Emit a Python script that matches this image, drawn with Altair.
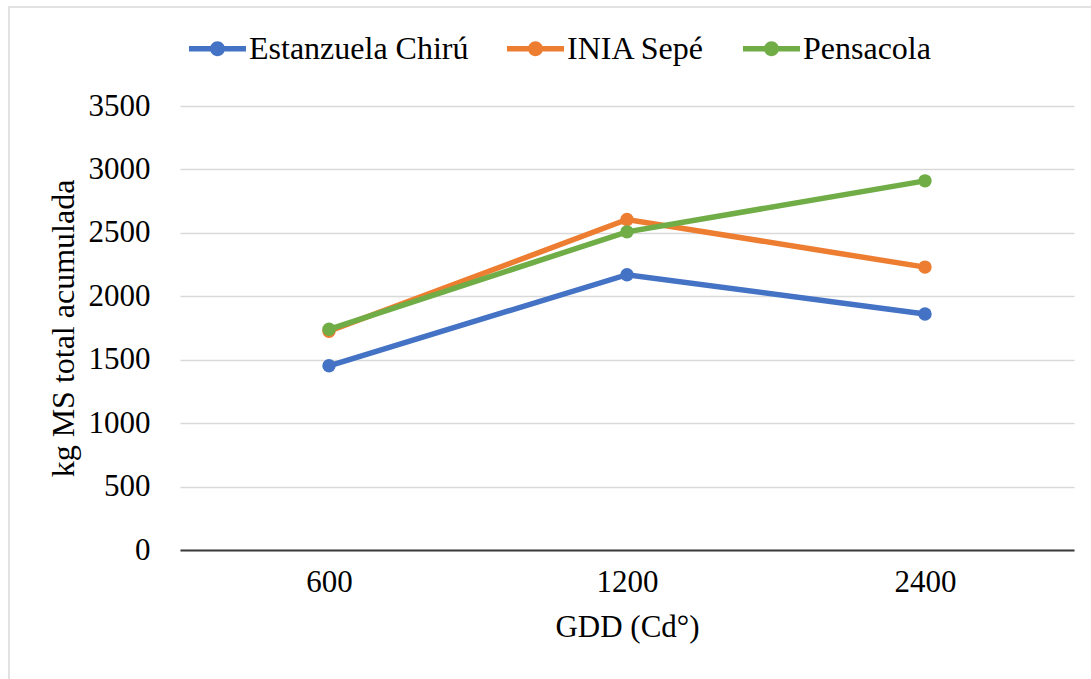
import altair as alt
import pandas as pd

gdd = ["600", "1200", "2400"]
estanzuela = [1452, 2170, 1860]
inia = [1725, 2605, 2230]
pensacola = [1740, 2508, 2910]
series_names = ["Estanzuela Chirú", "INIA Sepé", "Pensacola"]
colors = ["#4472C4", "#ED7D31", "#70AD47"]

rows = []
for name, vals in zip(series_names, [estanzuela, inia, pensacola]):
    for i, (g, v) in enumerate(zip(gdd, vals)):
        rows.append({"GDD": g, "orden": i, "valor": v, "serie": name})
df = pd.DataFrame(rows)

FONT = "Liberation Serif"
W, H = 894, 444

legend_path = ("M-1,-0.1L1,-0.1L1,0.1L-1,0.1Z "
               "M-0.26,0A0.26,0.26 0 1,1 0.26,0A0.26,0.26 0 1,1 -0.26,0Z")

color = alt.Color(
    "serie:N",
    scale=alt.Scale(domain=series_names, range=colors),
    legend=alt.Legend(
        title=None,
        orient="none",
        legendX=9,
        legendY=-86,
        direction="horizontal",
        symbolType=legend_path,
        symbolSize=3249,
        symbolStrokeWidth=0,
        symbolOpacity=1,
        labelFont=FONT,
        labelFontSize=32,
        labelColor="#000000",
        labelOffset=3,
        columnPadding=38,
        labelLimit=400,
    ),
)

x = alt.X(
    "GDD:N",
    sort=gdd,
    scale=alt.Scale(type="point", padding=0.5),
    axis=alt.Axis(
        title="GDD (Cd°)",
        titleFont=FONT,
        titleFontSize=31,
        titleFontWeight="normal",
        titleColor="#000000",
        titlePadding=15,
        labelFont=FONT,
        labelFontSize=31,
        labelColor="#000000",
        labelAngle=0,
        labelPadding=17,
        ticks=False,
        domainColor="#3a3a3a",
        domainWidth=2,
        grid=False,
    ),
)
y = alt.Y(
    "valor:Q",
    scale=alt.Scale(domain=[0, 3500], nice=False),
    axis=alt.Axis(
        title="kg MS total acumulada",
        titleFont=FONT,
        titleFontSize=32,
        titleFontWeight="normal",
        titleColor="#000000",
        titlePadding=8,
        labelFont=FONT,
        labelFontSize=31,
        labelColor="#000000",
        labelPadding=30,
        format="d",
        values=[0, 500, 1000, 1500, 2000, 2500, 3000, 3500],
        ticks=False,
        domain=False,
        gridColor="#d9d9d9",
        gridWidth=1.5,
    ),
)

base = alt.Chart(df)
lines = base.mark_line(strokeWidth=5.5).encode(
    x=x, y=y, color=color, order=alt.Order("orden:Q")
)
points = base.mark_point(filled=True, size=180, opacity=1).encode(x=x, y=y, color=color)

border = alt.Chart(alt.Data(values=[{}])).mark_rect(
    fill=None, stroke="#d9d9d9", strokeWidth=1.5, clip=False
).encode(
    x=alt.value(-171), x2=alt.value(940), y=alt.value(-99), y2=alt.value(620)
)

chart = alt.layer(border, lines, points).properties(
    width=W,
    height=H,
    autosize=alt.AutoSizeParams(type="none"),
    padding={"left": 180, "top": 106, "right": 17, "bottom": 129},
    background="#ffffff",
).configure(font=FONT).configure_view(stroke=None).configure_legend(
    labelFont=FONT, labelFontSize=32, labelColor="#000000"
).configure_axis(labelFont=FONT, titleFont=FONT)

chart.save("out.html", embed_options={"renderer": "svg", "actions": False})
